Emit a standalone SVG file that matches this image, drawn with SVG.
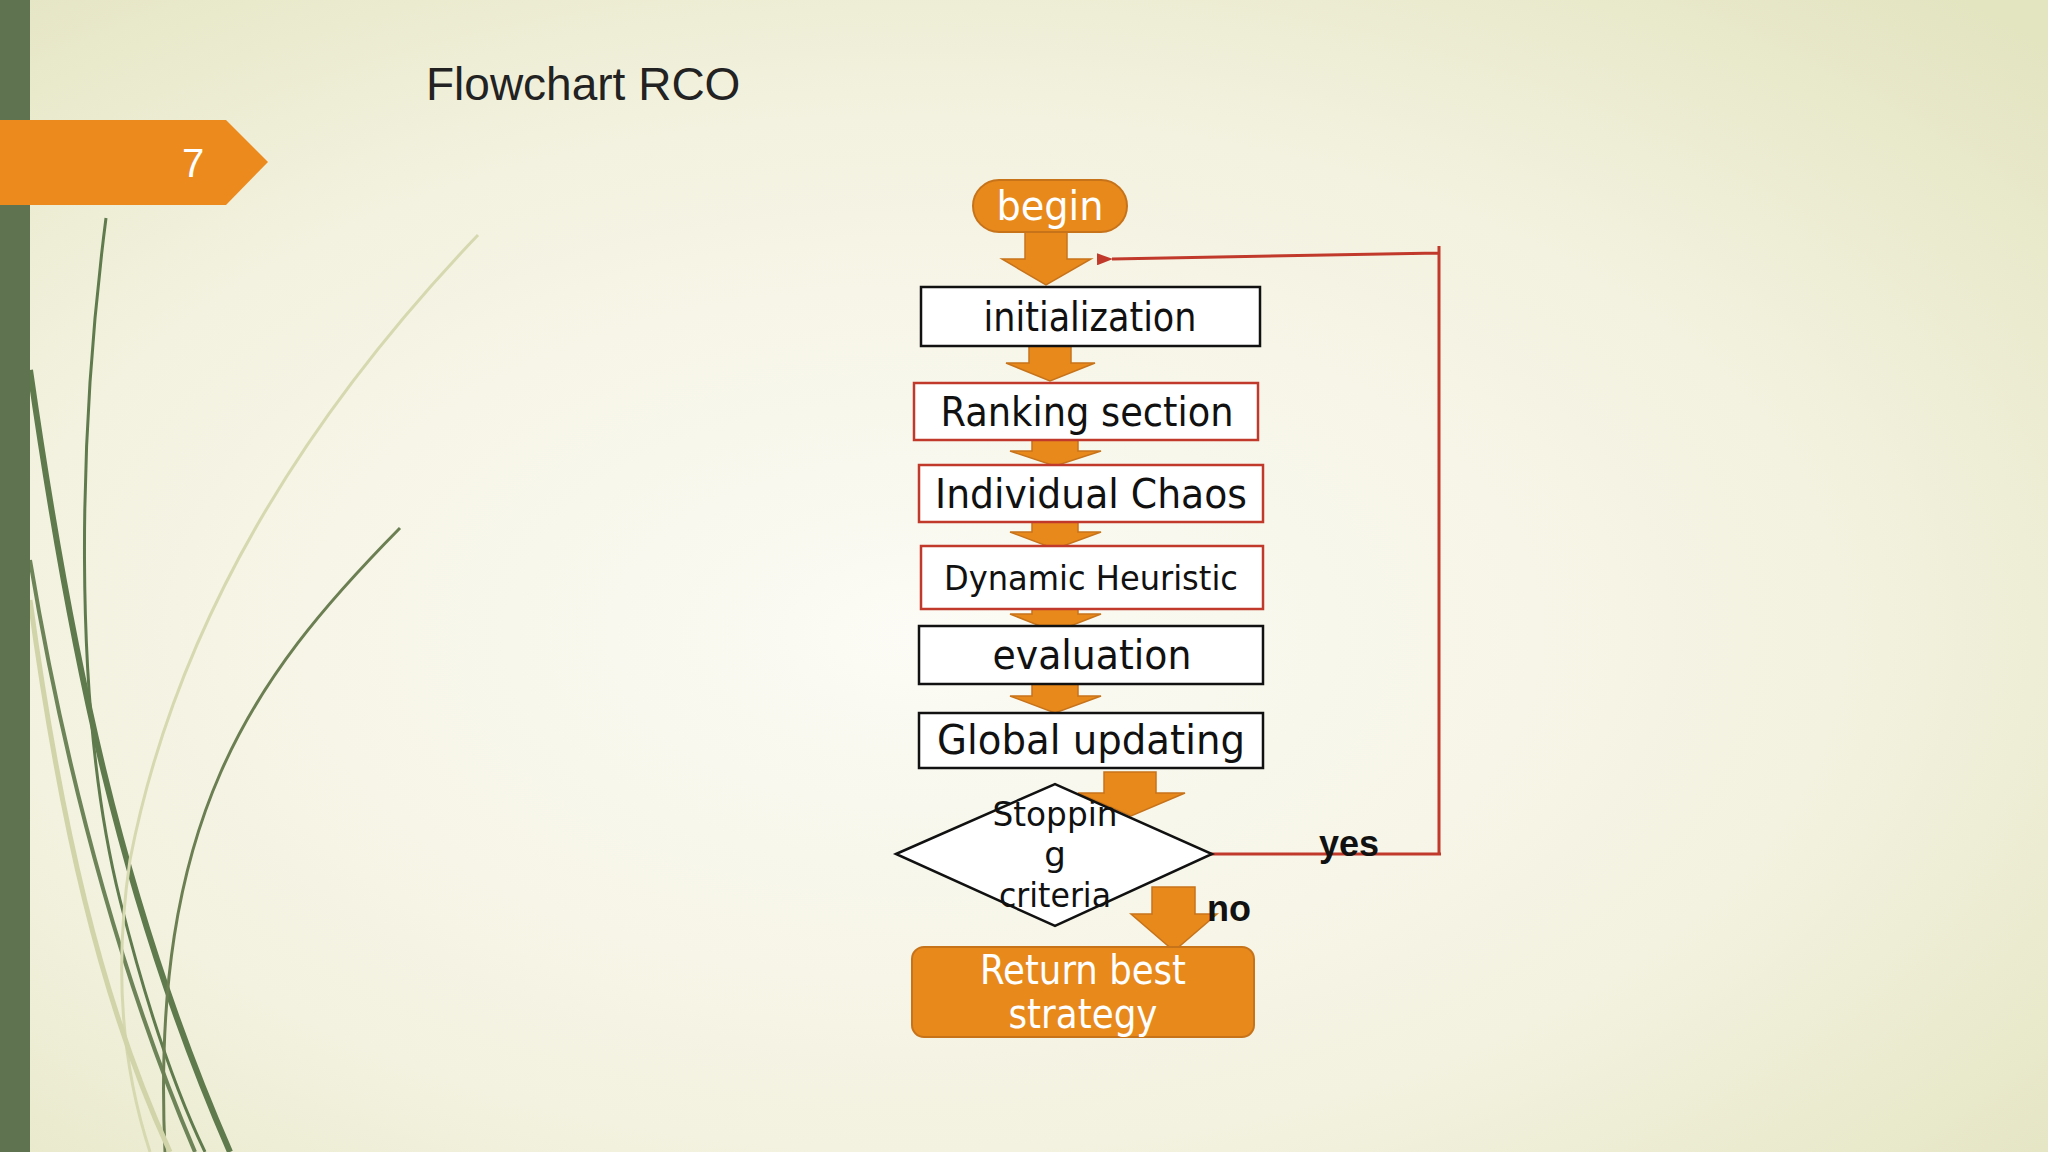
<svg xmlns="http://www.w3.org/2000/svg" width="2048" height="1152" viewBox="0 0 2048 1152">
<defs>
<radialGradient id="bg" cx="0.45" cy="0.55" r="0.75">
<stop offset="0" stop-color="#fcfbf5"/><stop offset="0.6" stop-color="#f3f2e0"/><stop offset="1" stop-color="#e3e4c0"/>
</radialGradient>
<marker id="ah" markerWidth="16" markerHeight="12" refX="1" refY="6" orient="auto" markerUnits="userSpaceOnUse"><path d="M16,0 L0,6 L16,12 Z" fill="#c0392b"/></marker>
<style>
.box{fill:#fff;stroke-width:2.5}
.blk{stroke:#111}
.red{stroke:#c0392b}
.t{font-family:"DejaVu Sans","Liberation Sans",sans-serif;fill:#111;text-anchor:middle}
.arr{fill:#e8891c;stroke:#c7731a;stroke-width:1.5}
.lab{font-family:"Liberation Sans",sans-serif;font-weight:bold;font-size:36px;fill:#111}
</style>
</defs>
<rect width="2048" height="1152" fill="url(#bg)"/>
<g fill="none">
<path d="M106,218 C80,420 70,700 120,900 C150,1020 180,1100 205,1152" stroke="#5f7a4c" stroke-width="3"/>
<path d="M30,370 C70,650 120,900 230,1152" stroke="#5f7a4c" stroke-width="6"/>
<path d="M30,560 C70,800 130,1000 195,1152" stroke="#6d8458" stroke-width="4"/>
<path d="M400,528 C250,680 150,820 165,1152" stroke="#6b7f52" stroke-width="3"/>
<path d="M478,235 C330,390 180,600 130,860 C115,960 120,1060 150,1152" stroke="#d6d8b0" stroke-width="3"/>
<path d="M30,600 C60,820 100,1000 170,1152" stroke="#d0d4a8" stroke-width="5"/>
</g>
<rect x="0" y="0" width="30" height="1152" fill="#5f7350"/>
<path d="M0,120 H226 L268,162 L226,205 H0 Z" fill="#ec8a1e"/>
<text x="193" y="177" font-family="Liberation Sans,sans-serif" font-size="40" fill="#fff" text-anchor="middle">7</text>
<text x="426" y="100" font-family="Liberation Sans,sans-serif" font-size="46" fill="#222">Flowchart RCO</text>

<g id="connectors">
<path class="arr" d="M1025,232 H1067 V259 H1091 L1046,285 L1002,259 H1025 Z"/>
<path class="arr" d="M1029,346 H1071 V363 H1095 L1050,381 L1006,363 H1029 Z"/>
<path class="arr" d="M1032,435 H1078 V451 H1101 L1055,466 L1010,451 H1032 Z"/>
<path class="arr" d="M1032,520 H1078 V532 H1101 L1055,549 L1010,532 H1032 Z"/>
<path class="arr" d="M1032,606 H1078 V614 H1101 L1055,632 L1010,614 H1032 Z"/>
<path class="arr" d="M1032,684 H1078 V696 H1101 L1055,713 L1010,696 H1032 Z"/>
<path class="arr" d="M1104,772 H1156 V793 H1185 L1131,816 L1078,793 H1104 Z"/>
<path class="arr" d="M1152,887 H1195 V914 H1217 L1174,951 L1131,914 H1152 Z"/>
<path d="M1199,854 H1441 M1439,854 V246 M1439,253 L1112,259" fill="none" stroke="#c0392b" stroke-width="3" marker-end="url(#ah)"/>
<text class="lab" x="1319" y="856">yes</text>
<text class="lab" x="1207" y="921">no</text>
</g>

<g id="begin"><rect x="973" y="180" width="154" height="52" rx="26" fill="#e8891c" stroke="#c7731a" stroke-width="2"/><text class="t" x="1050" y="220" font-size="40" style="fill:#fff" textLength="107" lengthAdjust="spacingAndGlyphs">begin</text></g>
<g id="init"><rect class="box blk" x="921" y="287" width="339" height="59"/><text class="t" x="1090" y="331" font-size="40" textLength="213" lengthAdjust="spacingAndGlyphs">initialization</text></g>
<g id="rank"><rect class="box red" x="914" y="383" width="344" height="57"/><text class="t" x="1087" y="426" font-size="40" textLength="293" lengthAdjust="spacingAndGlyphs">Ranking section</text></g>
<g id="chaos"><rect class="box red" x="919" y="465" width="344" height="57"/><text class="t" x="1091" y="508" font-size="40" textLength="312" lengthAdjust="spacingAndGlyphs">Individual Chaos</text></g>
<g id="dyn"><rect class="box red" x="921" y="546" width="342" height="63"/><text class="t" x="1091" y="590" font-size="34" textLength="294" lengthAdjust="spacingAndGlyphs">Dynamic Heuristic</text></g>
<g id="eval"><rect class="box blk" x="919" y="626" width="344" height="58"/><text class="t" x="1092" y="669" font-size="40" textLength="199" lengthAdjust="spacingAndGlyphs">evaluation</text></g>
<g id="global"><rect class="box blk" x="919" y="713" width="344" height="55"/><text class="t" x="1091" y="754" font-size="40" textLength="308" lengthAdjust="spacingAndGlyphs">Global updating</text></g>
<g id="stop"><path d="M896,854 L1055,784 L1212,854 L1055,926 Z" fill="#fff" stroke="#111" stroke-width="2.5"/>
<text class="t" x="1055" y="826" font-size="34" textLength="125" lengthAdjust="spacingAndGlyphs">Stoppin</text>
<text class="t" x="1055" y="866" font-size="34">g</text>
<text class="t" x="1055" y="907" font-size="34" textLength="112" lengthAdjust="spacingAndGlyphs">criteria</text></g>
<g id="ret"><rect x="912" y="947" width="342" height="90" rx="12" fill="#e8891c" stroke="#c7731a" stroke-width="2"/>
<text class="t" x="1083" y="984" font-size="40" style="fill:#fff" textLength="206" lengthAdjust="spacingAndGlyphs">Return best</text>
<text class="t" x="1083" y="1028" font-size="40" style="fill:#fff" textLength="149" lengthAdjust="spacingAndGlyphs">strategy</text></g>
</svg>
